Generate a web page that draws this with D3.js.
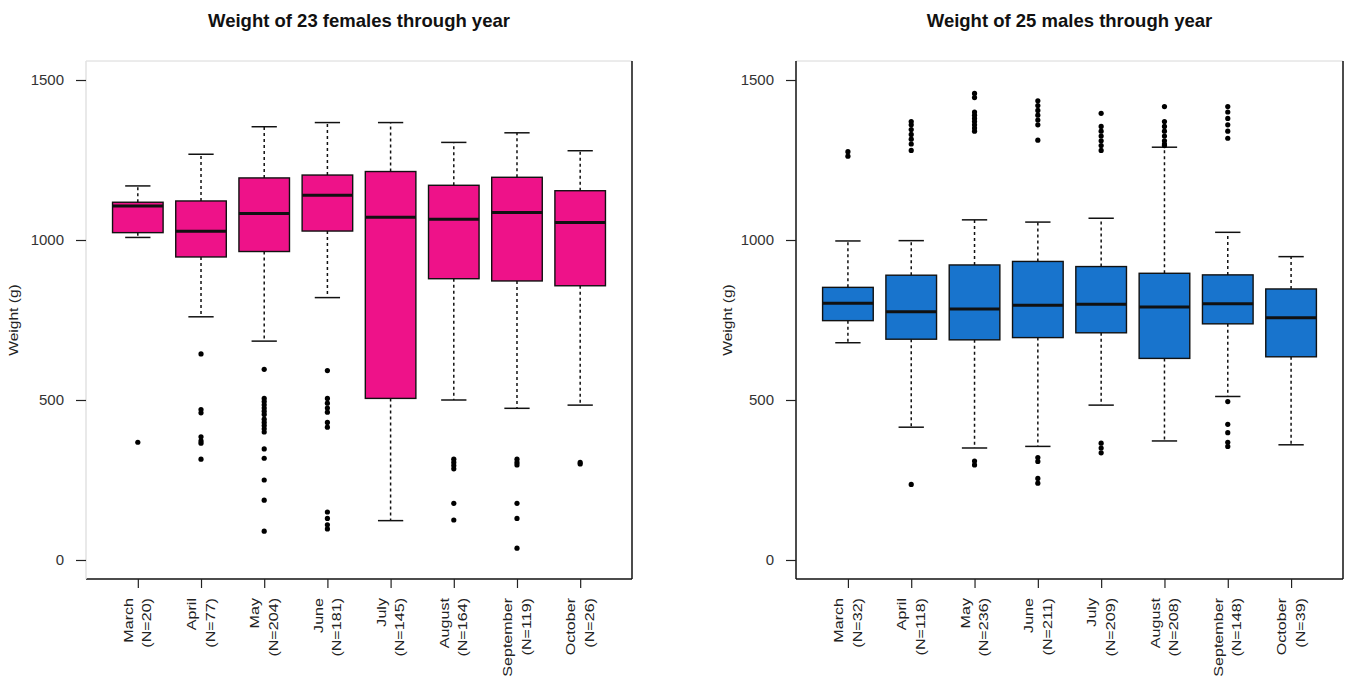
<!DOCTYPE html>
<html>
<head>
<meta charset="utf-8">
<script src="https://cdn.jsdelivr.net/npm/d3@7"></script>
<style>
  html, body { margin: 0; padding: 0; background: #fff; }
  svg { display: block; font-family: "Liberation Sans", Arial, sans-serif; }
</style>
</head>
<body>
<svg id="chart" width="1347" height="682"></svg>
<script>
// Months sampled and sample sizes per sex
const months = ["March", "April", "May", "June", "July", "August", "September", "October"];
const femaleN = [20, 77, 204, 181, 145, 164, 119, 26];
const maleN = [32, 118, 236, 211, 209, 208, 148, 39];

// Five-number summaries (g) for females
const femaleLower = [1008, 760, 684, 820, 123, 500, 474, 484];
const femaleQ1 = [1023, 947, 964, 1028, 505, 879, 872, 857];
const femaleMedian = [1106, 1027, 1083, 1140, 1071, 1065, 1086, 1055];
const femaleQ3 = [1118, 1122, 1194, 1203, 1214, 1171, 1196, 1154];
const femaleUpper = [1169, 1268, 1354, 1367, 1367, 1305, 1335, 1279];
const femaleOutliers = [
  [368],
  [644, 470, 460, 385, 372, 365, 315],
  [596, 505, 495, 485, 475, 465, 455, 440, 430, 420, 410, 400, 347, 318, 250, 187, 90],
  [592, 505, 490, 475, 462, 430, 415, 150, 130, 110, 97],
  [],
  [315, 305, 295, 285, 177, 125],
  [315, 305, 297, 177, 130, 37],
  [305, 300]
];

// Five-number summaries (g) for males
const maleLower = [679, 415, 350, 355, 484, 372, 511, 360];
const maleQ1 = [748, 690, 688, 695, 710, 630, 738, 635];
const maleMedian = [802, 776, 784, 796, 799, 791, 801, 757];
const maleQ3 = [852, 890, 922, 933, 917, 896, 891, 847];
const maleUpper = [997, 998, 1063, 1056, 1068, 1290, 1024, 948];
const maleOutliers = [
  [1276, 1262],
  [1370, 1360, 1345, 1330, 1315, 1300, 1280, 236],
  [1458, 1445, 1400, 1390, 1380, 1370, 1360, 1350, 1340, 309, 297],
  [1435, 1420, 1405, 1390, 1375, 1360, 1312, 320, 308, 255, 240],
  [1396, 1355, 1340, 1325, 1310, 1295, 1280, 365, 350, 335],
  [1417, 1370, 1355, 1340, 1325, 1310, 1300, 1295],
  [1417, 1400, 1380, 1360, 1340, 1318, 495, 424, 398, 368, 355],
  []
];

const yTicks = [0, 500, 1000, 1500];

const svg = d3.select("#chart");

function buildStats(lower, q1, med, q3, upper, outl, n) {
  return months.map((m, i) => ({
    month: m, n: n[i], lower: lower[i], q1: q1[i], median: med[i],
    q3: q3[i], upper: upper[i], outliers: outl[i], pos: i + 1
  }));
}

function drawPanel(opts) {
  const { x0, x1, y0, y1, title, fill, stats, leftAxisColor } = opts;
  const g = svg.append("g");

  const x = d3.scaleLinear().domain([0.18, 8.82]).range([x0, x1]);
  const y = d3.scaleLinear().domain([-59.4, 1559.4]).range([y1, y0]);
  const step = x(2) - x(1);
  const boxW = step * 0.8;
  const capW = boxW * 0.5;

  // frame: faint top, plotted bottom/right
  g.append("line").attr("x1", x0).attr("x2", x1).attr("y1", y0).attr("y2", y0)
    .attr("stroke", "#d8d8d8").attr("stroke-width", 1);
  g.append("line").attr("x1", x1).attr("x2", x1).attr("y1", y0).attr("y2", y1)
    .attr("stroke", "#111").attr("stroke-width", 1.5);
  g.append("line").attr("x1", x0).attr("x2", x1).attr("y1", y1).attr("y2", y1)
    .attr("stroke", "#111").attr("stroke-width", 1.5);

  // y axis
  const yAxis = d3.axisLeft(y).tickValues(yTicks).tickSize(10).tickPadding(12)
    .tickFormat(d3.format("d"));
  const ya = g.append("g").attr("transform", `translate(${x0},0)`).call(yAxis);
  ya.select(".domain").attr("stroke", leftAxisColor).attr("stroke-width", 1.5)
    .attr("d", `M0,${y0}V${y1}`);
  ya.selectAll(".tick line").attr("stroke", "#222").attr("stroke-width", 1.2);
  ya.selectAll(".tick text").attr("fill", "#333").style("font-size", "15px")
    .style("font-family", "'Liberation Sans', Arial, sans-serif");

  // x axis ticks
  const xAxis = d3.axisBottom(x).tickValues(stats.map(d => d.pos)).tickSize(9).tickFormat("");
  const xa = g.append("g").attr("transform", `translate(0,${y1})`).call(xAxis);
  xa.select(".domain").remove();
  xa.selectAll(".tick line").attr("stroke", "#222").attr("stroke-width", 1.2);

  // rotated two-line month labels
  const lbl = g.append("g").selectAll("g").data(stats).join("g")
    .attr("transform", d => `translate(${x(d.pos)},${y1 + 19}) rotate(-90) scale(1.24,1)`);
  lbl.append("text").attr("text-anchor", "end").attr("y", -9.5).attr("dy", "0.36em")
    .attr("fill", "#222").style("font-size", "13px").text(d => d.month);
  lbl.append("text").attr("text-anchor", "end").attr("y", 9).attr("dy", "0.36em")
    .attr("fill", "#222").style("font-size", "13px").text(d => `(N=${d.n})`);

  // y axis title
  g.append("text")
    .attr("transform", `translate(${opts.yTitleX},${(y0 + y1) / 2}) rotate(-90) scale(1.2,1)`)
    .attr("text-anchor", "middle").attr("dy", "0.35em")
    .attr("fill", "#222").style("font-size", "13px").text("Weight (g)");

  // title
  g.append("text").attr("x", (x0 + x1) / 2).attr("y", 27).attr("text-anchor", "middle")
    .attr("fill", "#111").style("font-size", "18.5px").style("font-weight", "bold").text(title);

  const boxes = g.append("g").selectAll("g").data(stats).join("g");

  // whiskers
  boxes.append("line").attr("x1", d => x(d.pos)).attr("x2", d => x(d.pos))
    .attr("y1", d => y(d.q3)).attr("y2", d => y(d.upper))
    .attr("stroke", "#111").attr("stroke-width", 1.5).attr("stroke-dasharray", "3,3");
  boxes.append("line").attr("x1", d => x(d.pos)).attr("x2", d => x(d.pos))
    .attr("y1", d => y(d.q1)).attr("y2", d => y(d.lower))
    .attr("stroke", "#111").attr("stroke-width", 1.5).attr("stroke-dasharray", "3,3");
  // caps
  boxes.append("line").attr("x1", d => x(d.pos) - capW / 2).attr("x2", d => x(d.pos) + capW / 2)
    .attr("y1", d => y(d.upper)).attr("y2", d => y(d.upper))
    .attr("stroke", "#111").attr("stroke-width", 1.5);
  boxes.append("line").attr("x1", d => x(d.pos) - capW / 2).attr("x2", d => x(d.pos) + capW / 2)
    .attr("y1", d => y(d.lower)).attr("y2", d => y(d.lower))
    .attr("stroke", "#111").attr("stroke-width", 1.5);
  // box
  boxes.append("rect").attr("x", d => x(d.pos) - boxW / 2).attr("width", boxW)
    .attr("y", d => y(d.q3)).attr("height", d => y(d.q1) - y(d.q3))
    .attr("fill", fill).attr("stroke", "#111").attr("stroke-width", 1.4);
  // median
  boxes.append("line").attr("x1", d => x(d.pos) - boxW / 2).attr("x2", d => x(d.pos) + boxW / 2)
    .attr("y1", d => y(d.median)).attr("y2", d => y(d.median))
    .attr("stroke", "#111").attr("stroke-width", 3);
  // outliers
  boxes.selectAll("circle").data(d => d.outliers.map(v => ({ pos: d.pos, v })))
    .join("circle").attr("cx", d => x(d.pos)).attr("cy", d => y(d.v))
    .attr("r", 2.6).attr("fill", "#000");
}

drawPanel({
  x0: 86, x1: 632, y0: 61, y1: 579, yTitleX: 13,
  title: "Weight of 23 females through year", fill: "#EE1289",
  leftAxisColor: "#e2e2e2",
  stats: buildStats(femaleLower, femaleQ1, femaleMedian, femaleQ3, femaleUpper, femaleOutliers, femaleN)
});

drawPanel({
  x0: 796, x1: 1343, y0: 61, y1: 579, yTitleX: 727,
  title: "Weight of 25 males through year", fill: "#1874CD",
  leftAxisColor: "#111",
  stats: buildStats(maleLower, maleQ1, maleMedian, maleQ3, maleUpper, maleOutliers, maleN)
});
</script>
</body>
</html>
